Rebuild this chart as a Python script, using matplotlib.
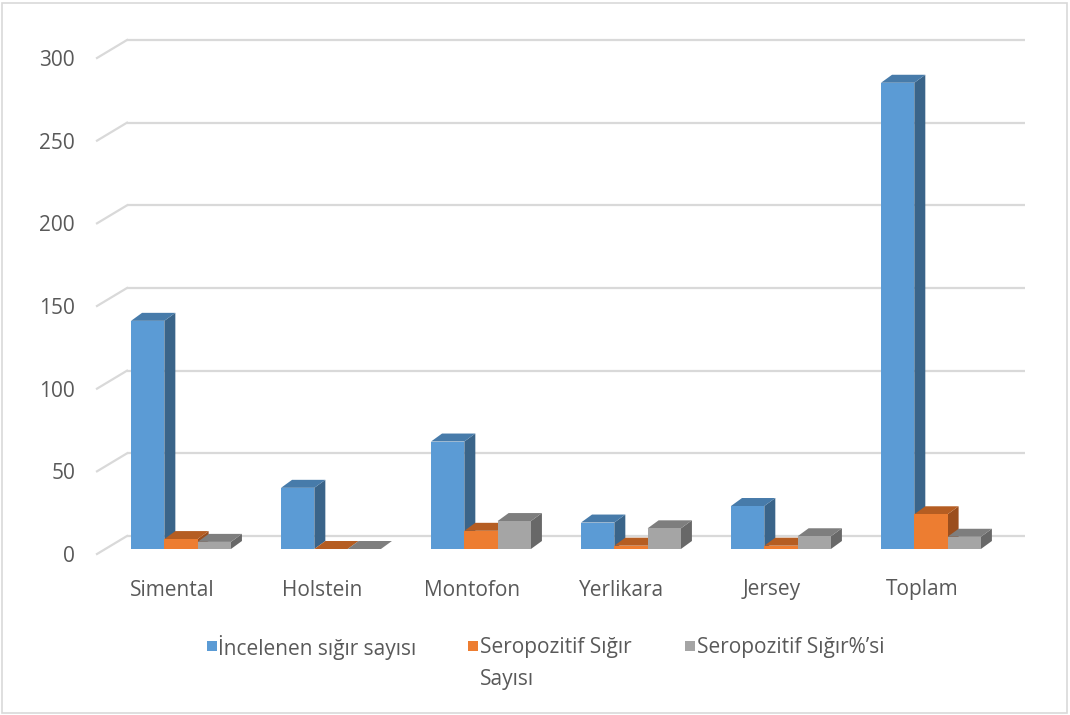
import matplotlib
matplotlib.use("Agg")
import matplotlib.pyplot as plt
from matplotlib.patches import Polygon, Rectangle

# Data
categories = ["Simental", "Holstein", "Montofon", "Yerlikara", "Jersey", "Toplam"]
incelenen = [138, 37, 65, 16, 26, 282]
seropozitif = [6, 0, 11, 2, 2, 21]
seropozitif_pct = [4.3, 0, 16.9, 12.5, 7.7, 7.4]
series_names = ["İncelenen sığır sayısı", "Seropozitif Sığır\nSayısı", "Seropozitif Sığır%’si"]
yticks = [0, 50, 100, 150, 200, 250, 300]

# face colours: front, top, side
colors = [
    ("#5B9BD5", "#477BAA", "#3A6489"),
    ("#ED7D31", "#B55D22", "#9B4E1D"),
    ("#A5A5A5", "#7E7E7E", "#686868"),
]

W, H = 1070, 715
fig = plt.figure(figsize=(W / 100, H / 100), dpi=100)
fig.patch.set_facecolor("white")

# axes in the bars' front plane
ax_l, ax_r, ax_b, ax_t = 97, 1025, 166, 662
ax = fig.add_axes([ax_l / W, ax_b / H, (ax_r - ax_l) / W, (ax_t - ax_b) / H])
ax.set_xlim(-0.56, 5.627)
ax.set_ylim(0, 300)
ax.axis("off")

px_x = (ax_r - ax_l) / (5.627 + 0.56)   # pixels per x unit
px_y = (ax_t - ax_b) / 300.0            # pixels per value unit

def dx(p):
    return p / px_x

def dy(p):
    return p / px_y

fnt = ["Open Sans", "DejaVu Sans"]
fs = 15
txt_color = "#595959"
grid_color = "#D9D9D9"

# back wall gridlines with short diagonal on the side wall
back_shift = dy(13)
for t in yticks:
    yb = t + back_shift
    ax.plot([-0.56 + dx(30), 5.627], [yb, yb], color=grid_color, lw=1.6,
            clip_on=False, zorder=1, solid_capstyle="butt")
    ax.plot([-0.56, -0.56 + dx(30)], [yb - dy(18), yb], color=grid_color, lw=1.6,
            clip_on=False, zorder=1)
    ax.text(-0.56 - dx(22), t - dy(7.5), str(t), ha="right", va="center",
            fontsize=fs, color=txt_color, family=fnt)

# 3D-looking bars
bw = dx(33.3)
ddx, ddy = dx(11), dy(8)
all_series = [incelenen, seropozitif, seropozitif_pct]
for i, cat in enumerate(categories):
    for s, vals in enumerate(all_series):
        v = vals[i]
        x0 = i - 1.5 * bw + s * bw
        x1 = x0 + bw
        front, top, side = colors[s]
        z = 3 + i * 3 + s
        ax.add_patch(Polygon([(x1, 0), (x1 + ddx, ddy), (x1 + ddx, v + ddy), (x1, v)],
                             closed=True, facecolor=side, edgecolor="none",
                             clip_on=False, zorder=z))
        ax.add_patch(Polygon([(x0, v), (x1, v), (x1 + ddx, v + ddy), (x0 + ddx, v + ddy)],
                             closed=True, facecolor=top, edgecolor="none",
                             clip_on=False, zorder=z))
        ax.add_patch(Rectangle((x0, 0), bw, v, facecolor=front, edgecolor="none",
                               clip_on=False, zorder=z))
    ax.text(i - dx(9), -dy(41), cat, ha="center", va="center", fontsize=fs,
            color=txt_color, family=fnt)

# legend
leg_items = [(207, 218), (468, 480), (685, 697)]
for (sx, tx), name, col in zip(leg_items, series_names, colors):
    fig.add_artist(Rectangle((sx / W, 1 - 651 / H), 10 / W, 10 / H,
                             transform=fig.transFigure, facecolor=col[0],
                             edgecolor="none"))
    lines = name.split("\n")
    for k, line in enumerate(lines):
        fig.text(tx / W, 1 - (648 + 31 * k) / H, line, ha="left", va="center",
                 fontsize=fs, color=txt_color, family=fnt)

# chart border
fig.add_artist(Rectangle((2 / W, 2 / H), (W - 5) / W, (H - 5) / H,
                         transform=fig.transFigure, facecolor="none",
                         edgecolor=grid_color, lw=1.2))

fig.savefig("out.png", dpi=100, facecolor="white")
